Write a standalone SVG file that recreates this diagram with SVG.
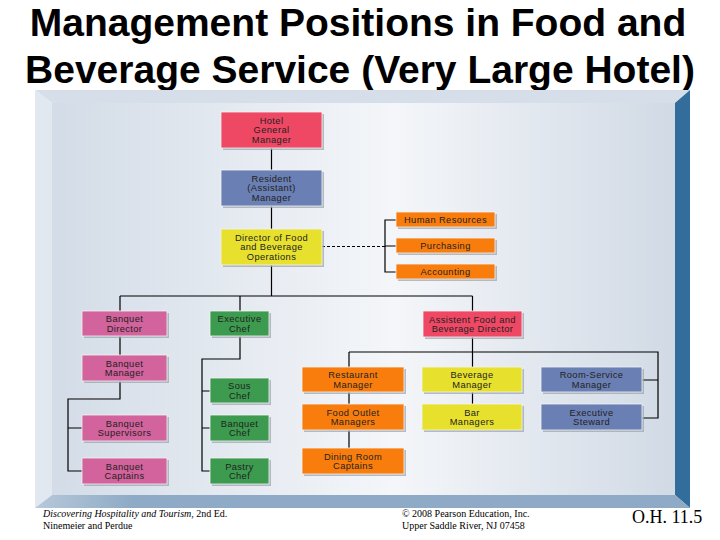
<svg xmlns="http://www.w3.org/2000/svg" width="720" height="540" viewBox="0 0 720 540">
<defs>
<linearGradient id="bg" x1="0" y1="0" x2="1" y2="0">
<stop offset="0" stop-color="#d3dce7"/>
<stop offset="0.55" stop-color="#f4f6f9"/>
<stop offset="1" stop-color="#d1dae5"/>
</linearGradient>
<linearGradient id="bot" x1="0" y1="0" x2="1" y2="0">
<stop offset="0" stop-color="#b7c9da"/>
<stop offset="0.15" stop-color="#8eaac6"/>
<stop offset="1" stop-color="#8eaac6"/>
</linearGradient>
<style>
.title{font-family:"Liberation Sans",Arial,sans-serif;font-weight:bold;font-size:39px;fill:#000;text-anchor:middle}
.sh{fill:#9aa3ad;opacity:0.7}
.box{stroke:#f2f2f2;stroke-width:0.8}
.lbl{font-family:"Liberation Sans",Arial,sans-serif;font-size:9.3px;letter-spacing:0.4px;fill:#222;text-anchor:middle}
.red{fill:#ef4865}
.blue{fill:#6a7fb4}
.yel{fill:#e7e12d}
.org{fill:#f97d0c}
.pink{fill:#d2639c}
.grn{fill:#3c9b4f}
.ln{stroke:#000;stroke-width:1.2;fill:none}
.dash{stroke:#000;stroke-width:1;fill:none;stroke-dasharray:3 2}
.ft{font-family:"Liberation Serif","Times New Roman",serif;font-size:10px;fill:#000}
</style>
</defs>
<rect width="720" height="540" fill="#fff"/>
<text class="title" x="358" y="36">Management Positions in Food and</text>
<text class="title" x="360" y="83">Beverage Service (Very Large Hotel)</text>
<g id="frame">
<rect x="52" y="103" width="623" height="392" fill="url(#bg)"/>
<polygon points="35,90 690,90 675,103 52,103" fill="#d5dee9"/>
<polygon points="35,90 52,103 52,495 35,508" fill="#e2e8ef"/>
<polygon points="690,90 690,508 675,495 675,103" fill="#336d9b"/>
<polygon points="35,508 52,495 675,495 690,508" fill="url(#bot)"/>
</g>
<g id="connectors">
<path class="ln" d="M271.5,148V170M271.5,206V229M271.5,265V296M120,296H472.5M120,296V311M240,296V311M472.5,296V311"/>
<path class="dash" d="M322,246.5H385"/>
<path class="ln" d="M396,220H385V272H396M385,246H396"/>
<path class="ln" d="M472.5,337V367M349,352H658V418H642M642,380H658M349,352V367M349,392V404M349,430V448M472.5,392V404"/>
<path class="ln" d="M120,336V355M120,381V399H68V471H82M68,428H82"/>
<path class="ln" d="M240,336V359H202V471H210M202,391H210M202,428H210"/>
</g>
<g id="hgm"><rect class="sh" x="223" y="114" width="101" height="36"/><rect class="box red" x="221" y="112" width="101" height="36"/><text class="lbl" x="271.5"><tspan x="271.5" y="123.6">Hotel</tspan><tspan x="271.5" y="133.3">General</tspan><tspan x="271.5" y="143">Manager</tspan></text></g>
<g id="res"><rect class="sh" x="223" y="172" width="101" height="36"/><rect class="box blue" x="221" y="170" width="101" height="36"/><text class="lbl"><tspan x="271.5" y="181.6">Resident</tspan><tspan x="271.5" y="191.3">(Assistant)</tspan><tspan x="271.5" y="201">Manager</tspan></text></g>
<g id="dir"><rect class="sh" x="223" y="231" width="101" height="36"/><rect class="box yel" x="221" y="229" width="101" height="36"/><text class="lbl"><tspan x="271.5" y="240.6">Director of Food</tspan><tspan x="271.5" y="250.3">and Beverage</tspan><tspan x="271.5" y="260">Operations</tspan></text></g>
<g id="hr"><rect class="sh" x="398" y="214" width="99" height="15"/><rect class="box org" x="396" y="212" width="99" height="15"/><text class="lbl" x="445.5" y="222.8">Human Resources</text></g>
<g id="pur"><rect class="sh" x="398" y="240" width="99" height="15"/><rect class="box org" x="396" y="238" width="99" height="15"/><text class="lbl" x="445.5" y="248.8">Purchasing</text></g>
<g id="acc"><rect class="sh" x="398" y="266" width="99" height="15"/><rect class="box org" x="396" y="264" width="99" height="15"/><text class="lbl" x="445.5" y="274.8">Accounting</text></g>
<g id="bdir"><rect class="sh" x="84" y="313" width="85" height="25"/><rect class="box pink" x="82" y="311" width="85" height="25"/><text class="lbl"><tspan x="124.5" y="322">Banquet</tspan><tspan x="124.5" y="331.7">Director</tspan></text></g>
<g id="echef"><rect class="sh" x="212" y="313" width="59" height="25"/><rect class="box grn" x="210" y="311" width="59" height="25"/><text class="lbl"><tspan x="239.5" y="322">Executive</tspan><tspan x="239.5" y="331.7">Chef</tspan></text></g>
<g id="afbd"><rect class="sh" x="425" y="313" width="99" height="26"/><rect class="box red" x="423" y="311" width="99" height="26"/><text class="lbl"><tspan x="472.5" y="322.5">Assistent Food and</tspan><tspan x="472.5" y="332.2">Beverage Director</tspan></text></g>
<g id="bman"><rect class="sh" x="84" y="357" width="85" height="26"/><rect class="box pink" x="82" y="355" width="85" height="26"/><text class="lbl"><tspan x="124.5" y="366.5">Banquet</tspan><tspan x="124.5" y="376.2">Manager</tspan></text></g>
<g id="sous"><rect class="sh" x="212" y="380" width="59" height="25"/><rect class="box grn" x="210" y="378" width="59" height="25"/><text class="lbl"><tspan x="239.5" y="389">Sous</tspan><tspan x="239.5" y="398.7">Chef</tspan></text></g>
<g id="bsup"><rect class="sh" x="84" y="417" width="85" height="26"/><rect class="box pink" x="82" y="415" width="85" height="26"/><text class="lbl"><tspan x="124.5" y="426.5">Banquet</tspan><tspan x="124.5" y="436.2">Supervisors</tspan></text></g>
<g id="bchef"><rect class="sh" x="212" y="417" width="59" height="26"/><rect class="box grn" x="210" y="415" width="59" height="26"/><text class="lbl"><tspan x="239.5" y="426.5">Banquet</tspan><tspan x="239.5" y="436.2">Chef</tspan></text></g>
<g id="bcap"><rect class="sh" x="84" y="460" width="85" height="26"/><rect class="box pink" x="82" y="458" width="85" height="26"/><text class="lbl"><tspan x="124.5" y="469.5">Banquet</tspan><tspan x="124.5" y="479.2">Captains</tspan></text></g>
<g id="pastry"><rect class="sh" x="212" y="460" width="59" height="26"/><rect class="box grn" x="210" y="458" width="59" height="26"/><text class="lbl"><tspan x="239.5" y="469.5">Pastry</tspan><tspan x="239.5" y="479.2">Chef</tspan></text></g>
<g id="rest"><rect class="sh" x="304" y="369" width="102" height="25"/><rect class="box org" x="302" y="367" width="102" height="25"/><text class="lbl"><tspan x="353" y="378">Restaurant</tspan><tspan x="353" y="387.7">Manager</tspan></text></g>
<g id="bev"><rect class="sh" x="424" y="369" width="100" height="25"/><rect class="box yel" x="422" y="367" width="100" height="25"/><text class="lbl"><tspan x="472" y="378">Beverage</tspan><tspan x="472" y="387.7">Manager</tspan></text></g>
<g id="rsm"><rect class="sh" x="543" y="369" width="101" height="25"/><rect class="box blue" x="541" y="367" width="101" height="25"/><text class="lbl"><tspan x="591.5" y="378">Room-Service</tspan><tspan x="591.5" y="387.7">Manager</tspan></text></g>
<g id="food"><rect class="sh" x="304" y="406" width="102" height="26"/><rect class="box org" x="302" y="404" width="102" height="26"/><text class="lbl"><tspan x="353" y="415.5">Food Outlet</tspan><tspan x="353" y="425.2">Managers</tspan></text></g>
<g id="bar"><rect class="sh" x="424" y="406" width="100" height="26"/><rect class="box yel" x="422" y="404" width="100" height="26"/><text class="lbl"><tspan x="472" y="415.5">Bar</tspan><tspan x="472" y="425.2">Managers</tspan></text></g>
<g id="exst"><rect class="sh" x="543" y="406" width="101" height="26"/><rect class="box blue" x="541" y="404" width="101" height="26"/><text class="lbl"><tspan x="591.5" y="415.5">Executive</tspan><tspan x="591.5" y="425.2">Steward</tspan></text></g>
<g id="dining"><rect class="sh" x="304" y="450" width="102" height="26"/><rect class="box org" x="302" y="448" width="102" height="26"/><text class="lbl"><tspan x="353" y="459.5">Dining Room</tspan><tspan x="353" y="469.2">Captains</tspan></text></g>
<g id="footer">
<text class="ft" x="43" y="517"><tspan font-style="italic">Discovering Hospitality and Tourism</tspan>, 2nd Ed.</text>
<text class="ft" x="43" y="529">Ninemeier and Perdue</text>
<text class="ft" x="402" y="517">© 2008 Pearson Education, Inc.</text>
<text class="ft" x="402" y="529">Upper Saddle River, NJ 07458</text>
<text class="ft" x="632" y="523" style="font-size:18px">O.H. 11.5</text>
</g>
</svg>
